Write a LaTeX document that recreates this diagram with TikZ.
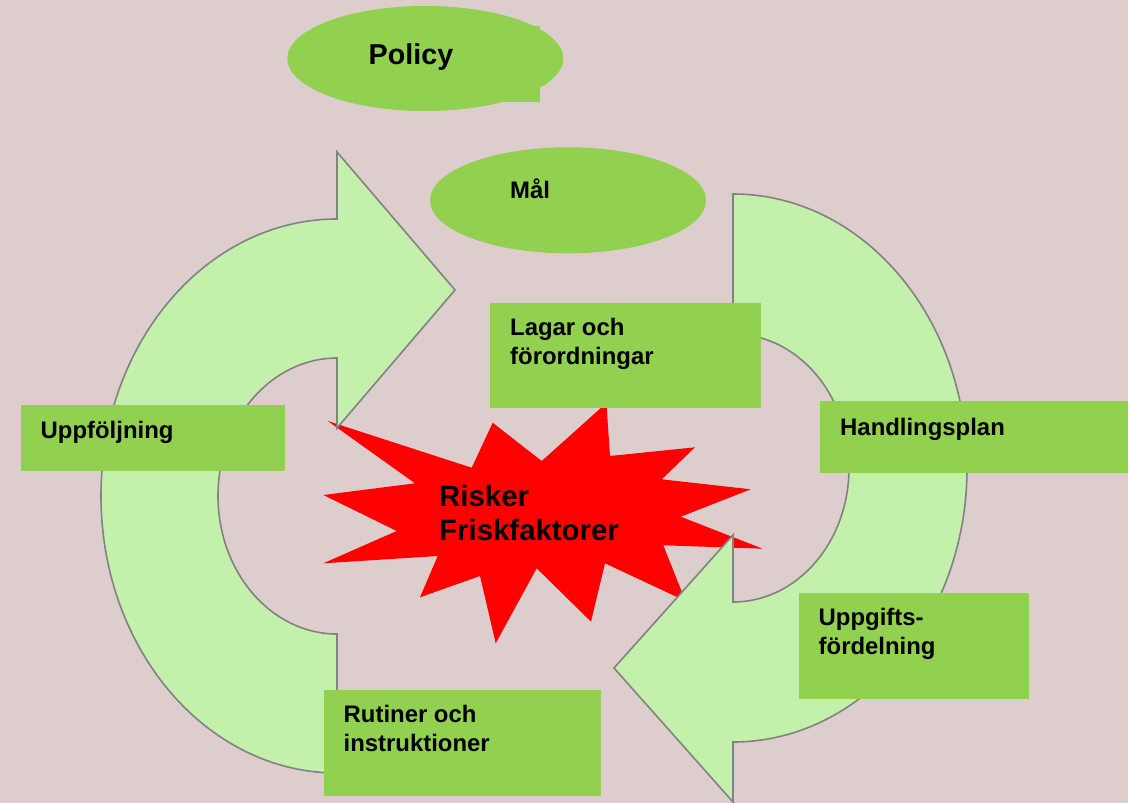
\documentclass[tikz,border=0pt]{standalone}
\usepackage{fontspec}
\setmainfont{Liberation Sans}
\definecolor{bgpink}{RGB}{222,205,205}
\definecolor{leafgreen}{RGB}{146,208,80}
\definecolor{palegreen}{RGB}{195,240,170}
\definecolor{rimgray}{RGB}{130,130,130}
\begin{document}
\begin{tikzpicture}[x=1pt,y=-1pt,
  greenbox/.style={fill=leafgreen, draw=none, anchor=north west, inner sep=0pt},
  oval/.style={ellipse, fill=leafgreen, draw=none, inner sep=0pt},
  band/.style={fill=palegreen, draw=rimgray, line width=1.6pt, line join=miter},
  burst/.style={fill=red, draw=none},
  lbl/.style={font=\fontsize{23.9}{29}\selectfont\bfseries, anchor=base west, inner sep=0pt, align=left},
  biglbl/.style={font=\fontsize{29.4}{34.7}\selectfont\bfseries, anchor=base west, inner sep=0pt, align=left}]
\usetikzlibrary{shapes.geometric}
% page background
\fill[bgpink] (0,0) rectangle (1128,803);
\useasboundingbox (0,0) rectangle (1128,803);

% top ovals
\fill[leafgreen] (480,26) rectangle (540,101.7);
\node[oval, minimum width=276, minimum height=105] (policy) at (425.3,58.5) {};
\node[oval, minimum width=276, minimum height=106] (mal) at (568,200.3) {};

% central burst
\fill[burst] (327.7,421) -- (471.7,467.7) -- (492.7,422.7) -- (541.7,461)
  -- (606.4,403) -- (610,456) -- (695,447.3) -- (661.7,479.3)
  -- (750.7,489.3) -- (680.7,516.7) -- (762.7,548.7) -- (663.3,545.3)
  -- (685.5,601) -- (605,563.3) -- (591,621.7) -- (536.7,568.3)
  -- (495.7,643.3) -- (480,576) -- (420,597.3) -- (437.7,556)
  -- (323.3,563.3) -- (396.7,531) -- (323.3,495) -- (415,483.3) -- cycle;

% left circular arrow, pointing right at the top
\filldraw[band] (337,219)
  arc[start angle=90, end angle=270, x radius=236pt, y radius=277pt]
  -- (337,634)
  arc[start angle=270, end angle=90, x radius=119pt, y radius=138pt]
  -- (337,428) -- (455,290) -- (337,152) -- cycle;

% right circular arrow, pointing left at the bottom
\filldraw[band] (733,334) -- (733,194)
  arc[start angle=90, end angle=-90, x radius=234pt, y radius=274pt]
  -- (733,802) -- (614,668) -- (733,535) -- (733,602)
  arc[start angle=-90, end angle=90, x radius=116pt, y radius=134pt]
  -- cycle;

% label boxes
\node[greenbox, minimum width=271, minimum height=105.4] (lagar) at (490,302.3) {};
\node[greenbox, minimum width=264, minimum height=65.3] (uppf) at (21,405) {};
\node[greenbox, minimum width=308, minimum height=71.3] (handl) at (820,401) {};
\node[greenbox, minimum width=230, minimum height=105.3] (uppg) at (799,593) {};
\node[greenbox, minimum width=277, minimum height=105.7] (rutin) at (324,690) {};

% texts (multi-line nodes sit on the baseline of their last line)
\node[font=\fontsize{28.7}{34}\selectfont\bfseries, anchor=base west, inner sep=0pt] (policytxt) at (368.5,64) {Policy};
\node[lbl] (maltxt) at (510,198) {Mål};
\node[lbl] (lagartxt) at (510,364) {Lagar och\\förordningar};
\node[lbl] (uppftxt) at (40.5,438) {Uppföljning};
\node[lbl] (handltxt) at (840,435.5) {Handlingsplan};
\node[lbl] (uppgtxt) at (818.5,654.3) {Uppgifts-\\fördelning};
\node[lbl] (rutintxt) at (343.5,751.7) {Rutiner och\\instruktioner};
\node[biglbl] (risktxt) at (439,540.7) {Risker\\Friskfaktorer};
\end{tikzpicture}
\end{document}
